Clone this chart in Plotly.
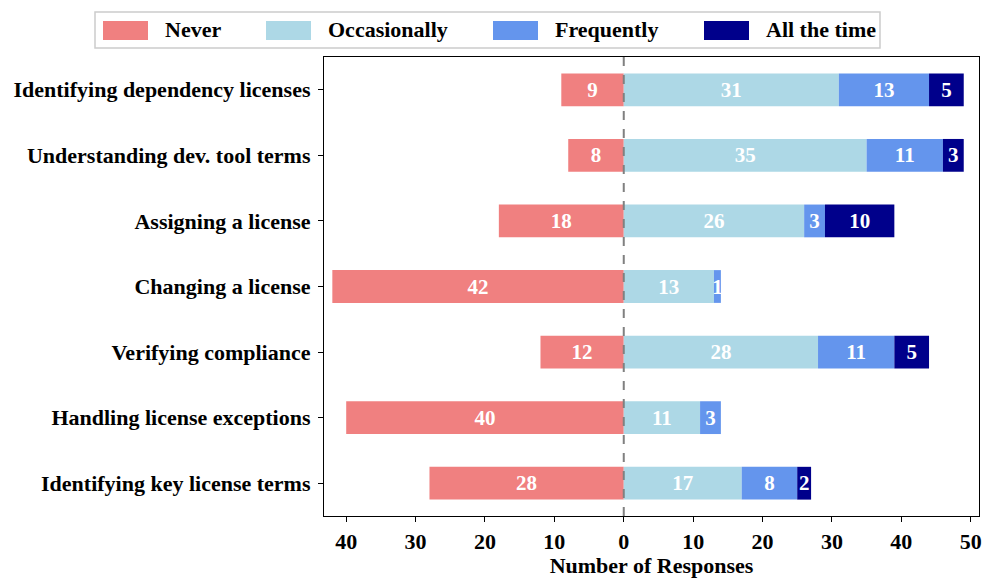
import plotly.graph_objects as go

categories = ["Identifying dependency licenses", "Understanding dev. tool terms",
              "Assigning a license", "Changing a license", "Verifying compliance",
              "Handling license exceptions", "Identifying key license terms"]
series_names = ["Never", "Occasionally", "Frequently", "All the time"]
never = [9, 8, 18, 42, 12, 40, 28]
occasionally = [31, 35, 26, 13, 28, 11, 17]
frequently = [13, 11, 3, 1, 11, 3, 8]
all_the_time = [5, 3, 10, 0, 5, 0, 2]
tick_vals = [-40, -30, -20, -10, 0, 10, 20, 30, 40, 50]
tick_text = ["40", "30", "20", "10", "0", "10", "20", "30", "40", "50"]

colors = ["#F08080", "#ADD8E6", "#6495ED", "#00008B"]
FONT = "Liberation Serif"

W, H = 996, 588
OFF = 8  # page body offset
ml, mr, mt, mb = 324 - OFF, 17 + OFF, 57 - OFF, 72 + OFF
pw, ph = W - ml - mr, H - mt - mb

def px(x):
    return (x - OFF - ml) / pw

def py(y):
    return (H - mb - (y - OFF)) / ph

fig = go.Figure()

def lab(vals):
    return [str(v) if v else "" for v in vals]

fig.add_trace(go.Bar(y=categories, x=[-v for v in never], base=0, orientation="h",
                     name=series_names[0], marker=dict(color=colors[0], line=dict(width=0)),
                     text=lab(never)))
left = [0] * len(categories)
for name, vals, col in zip(series_names[1:], [occasionally, frequently, all_the_time], colors[1:]):
    fig.add_trace(go.Bar(y=categories, x=vals, base=left, orientation="h", name=name,
                         marker=dict(color=col, line=dict(width=0)), text=lab(vals)))
    left = [a + b for a, b in zip(left, vals)]

fig.update_traces(width=0.5, textposition="inside", insidetextanchor="middle",
                  textfont=dict(family=FONT, size=21, color="white", weight="bold"),
                  cliponaxis=False, showlegend=False)

fig.update_layout(
    width=W, height=H, barmode="overlay",
    margin=dict(l=ml, r=mr, t=mt, b=mb, autoexpand=False),
    plot_bgcolor="white", paper_bgcolor="white",
    uniformtext=dict(minsize=21, mode="show"),
    font=dict(family=FONT, color="black", weight="bold"),
    xaxis=dict(range=[-43.2, 51.2], tickvals=tick_vals, ticktext=tick_text,
               automargin=False,
               showgrid=False, zeroline=False, showline=True, linecolor="black",
               linewidth=1.2, mirror=True, ticks="outside", ticklen=5, tickcolor="black",
               tickfont=dict(family=FONT, size=22, weight="bold"),
               title=dict(text="Number of Responses", standoff=0,
                          font=dict(family=FONT, size=22, weight="bold"))),
    yaxis=dict(range=[6.5, -0.5], showgrid=False, zeroline=False, showline=True,
               automargin=False,
               linecolor="black", linewidth=1.2, mirror=True, ticks="outside",
               ticklen=5, tickcolor="black", ticklabelstandoff=3,
               tickfont=dict(family=FONT, size=22, weight="bold")),
)

fig.add_shape(type="line", x0=0, x1=0, xref="x", y0=0, y1=1, yref="paper",
              line=dict(color="gray", width=2, dash="dash"), layer="above")

# manual legend
fig.add_shape(type="rect", xref="paper", yref="paper", x0=px(95), x1=px(880),
              y0=py(48), y1=py(12), line=dict(color="#CCCCCC", width=1.5),
              fillcolor="white", layer="above")
sw_x = [103, 266, 493, 704]
for name, col, sx in zip(series_names, colors, sw_x):
    fig.add_shape(type="rect", xref="paper", yref="paper", x0=px(sx), x1=px(sx + 45),
                  y0=py(40), y1=py(21), line=dict(width=0), fillcolor=col, layer="above")
    fig.add_annotation(xref="paper", yref="paper", x=px(sx + 60), y=py(30), text=name,
                       showarrow=False, xanchor="left", yanchor="middle",
                       font=dict(family=FONT, size=22, color="black", weight="bold"))

fig.write_html("out.html")
